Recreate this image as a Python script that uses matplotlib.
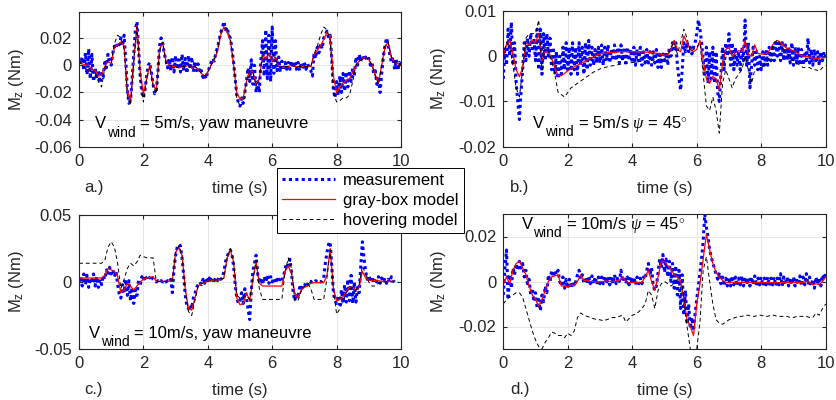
import numpy as np
import matplotlib
matplotlib.use("Agg")
import matplotlib.pyplot as plt

plt.rcParams['font.family'] = ['Liberation Sans', 'DejaVu Sans']
plt.rcParams['mathtext.fontset'] = 'custom'
plt.rcParams['mathtext.rm'] = 'Liberation Sans'
plt.rcParams['mathtext.it'] = 'Liberation Serif:italic'
plt.rcParams['axes.unicode_minus'] = False

# --- data (values in 1e-3 Nm) ---
# panel a: Vwind = 5 m/s, yaw maneuvre
meas_a = [3, 1, 6, -4, 9, -7, 12, -10, 8, -12,
          -2, -10, -4, -13, -6, -9, 2, -2, 8, 2,
          0, 9, 14, 12, 17, 15, 20, 14, 22, 4,
          -18, -28, -26, -10, 8, 26, 32, 12, -8, -20,
          -24, -18, -8, 0, 2, -6, -14, -21, -19, -5,
          14, 20, 16, 8, 4, -2, 5, -4, 6, -5,
          7, -3, 4, -5, 8, -4, 5, -6, 7, -3,
          6, -5, 3, -4, 1, -6, -4, -9, -7, -10,
          -4, -2, 2, 5, 3, 9, 13, 18, 24, 27,
          32, 26, 28, 22, 20, 12, 2, -10, -22, -28,
          -30, -24, -28, -20, -12, -2, -12, 4, -14, 0,
          -20, -12, -20, 4, 18, -8, 26, -10, 22, -12,
          28, -6, 18, -4, 6, -5, 3, -4, 2, -3,
          2, -3, 3, -2, 3, -3, 2, -4, 2, -3,
          2, -3, 1, -2, -4, -8, 9, 5, 13, 9,
          16, 12, 20, 22, 25, 20, 22, 5, -18, -24,
          -12, -22, -8, -20, -6, -19, -5, -16, -4, -12,
          -2, -8, 6, 0, 8, 3, 7, 4, 6, 3,
          5, 0, 2, -6, -4, -14, -10, -20, -6, 6,
          14, 20, 15, 8, 2, 6, -3, 4, -4, 2,
          0]
gray_a = [2, 1, 0, 0, -3, -4, -8, -7, -1, 3,
          1, 13, 15, 17, 14, -18, -27, 4, 29, -5,
          -21, -10, 0, -14, -19, 12, 16, 3, 0, -1,
          -1, -2, -1, -1, 0, -2, -1, -3, -6, -8,
          -5, 0, 4, 10, 22, 28, 24, 18, 0, -20,
          -25, -24, -12, -4, -5, -14, -10, 7, 5, 8,
          3, 6, -1, -2, -1, -1, 0, -1, -1, -1,
          -1, -1, -1, 8, 11, 14, 19, 24, 21, -8,
          -20, -16, -13, -11, -10, -5, 0, 3, 5, 6,
          4, 0, -7, -13, 0, 13, 17, 6, 2, 1,
          0]
hover_a = [3, 0, -2, -4, -5, -6, -12, -16, -2, 4,
           2, 16, 22, 20, 12, -22, -29, 2, 28, -8,
           -27, -10, -1, -15, -21, 10, 17, 2, 0, -1,
           -1, -2, -1, -1, 0, -2, -1, -3, -6, -8,
           -5, 0, 4, 12, 24, 27, 26, 20, 2, -24,
           -30, -28, -12, -4, -5, -15, -10, 9, 10, 12,
           8, 5, -1, -2, -1, -1, 0, -1, -1, -1,
           -1, -1, -1, 8, 14, 22, 28, 26, 18, -20,
           -27, -26, -24, -24, -22, -12, 0, 3, 5, 6,
           4, 0, -8, -14, 0, 14, 17, 6, 2, 1,
           0]

# panel b: Vwind = 5 m/s, psi = 45
meas_b = [-5, 2, -2, 6, 0, 7.5, -2, 3, -6, -10,
          -14, -8, -3, 3, -1, 4, 0, 5, 1, 4,
          -1, 6, -3, 6, -4, 5, -1, 5, 0, 4,
          -3, 2, -4, 1, -5, 0, -4, 2, -3, 3,
          -3, 2, -4, 3, -3, 2, -4, 3, -2, 2,
          -4, 3, -3, 3.5, -2, 2, -2, 1.5, -1.5, 2,
          -1.5, 2.5, -2, 2, -1, 2.5, -1.5, 1.5, -1, 2.5,
          -1, 2, -1.5, 2.5, -1, 2, -1.5, 2, -1, 1.5,
          -1.5, 2, -2, 1.5, -1, 2, -2, 1, -1.5, 1.5,
          -1.5, 1, -2, 1, -1.5, 1.5, -2.5, 1, -2.5, 0.5,
          -1, 1, -2, 2, 0, 3, 1, 3, -2, -5,
          -7.5, -3, 3, 1, 3, 1, 2, 0.5, 2, 3,
          5, 8, 6, 3, -1, -4, 2, -6, 1, -5,
          2, -6, 1, -8, -10, -4, 2, -3, 3, 0,
          5, -2, 3, -3, 2, -2, 1, -3, 2, -1,
          8, -2, 3, -7, -2, 2, -2, 1, -3, 0,
          -3, 1, -2, 1.5, -2, 2, -1, 2.5, -1, 3,
          0, 3, -1, 3, -1, 2.5, -1, 2, -1.5, 3,
          -2, 2, -1.5, 2, -2, 1.5, -2, 1, -1.5, 4,
          -1.5, 1.5, -2, 1.5, -1.5, 1, -2, 1, -1, 1,
          0]
gray_b = [0, 2.5, 3.5, 0.5, -3, -4.5, -2.5, 3, 2.5, 3.5,
          3, 5, -1, 1, 1, -0.5, -2.5, -4.3, -4.3, -3.8,
          -3.2, -2.8, -2.3, -2, -1.6, -1.3, -0.8, -0.4, -0.2, 0.3,
          0.5, 0.6, 0.7, 0.8, 0.8, 0.9, 1, 1, 1, 1,
          1, 1, 1, 1, 0.9, 0.9, 0.8, 0.7, 0.6, 0.4,
          0.2, 0.3, 1.5, 3.5, 1.5, 1, 4.5, 3, 1.5, 1,
          1.5, 3.5, -1, -5, -6, -4.5, -5, -7.5, -1.5, 1.5,
          2, 0, 0.8, 1.2, 1, 3.5, 0.5, 0, 2.5, 0.6,
          0.5, 0.4, 0.8, 1.8, 3, 3.5, 3, 2.3, 1.7, 1.5,
          1.2, 0.8, 0.3, 0, 0, -0.2, -0.4, -0.5, -0.4, -0.3,
          -0.3]
hover_b = [0, 3, 2, -2, -7, -9, -3, 4, 5, 5,
           5, 8, -3, 2, 1, -1, -4, -8, -8.5, -9,
           -8, -7, -6.5, -6, -5.5, -5, -4.5, -4, -3.5, -3.2,
           -2.8, -2.6, -2.4, -2.2, -2.1, -2, -1.8, -1.7, -1.6, -1.5,
           -1.4, -1.3, -1.2, -1.1, -1.05, -1, -0.9, -0.8, -0.7, -0.6,
           -0.5, 0, 2, 3, 0.5, 3, 6, 4, 1, 1.5,
           2, 3, -4, -11, -12, -9, -12, -17, -6, -3,
           -5, -7, -5, -4, -3, 0, -3, -6, -3, -3,
           -2.5, -2, -1, 1, 3, 3.5, 2.5, 1.5, 0.5, -0.5,
           -1, -1.5, -2, -2.5, -2.5, -2.5, -3, -3, -3.3, -2.5,
           -2]

# panel c: Vwind = 10 m/s, yaw maneuvre (ends at 9.8 s)
meas_c = [0, 4, -3, 6, -2, 5, -4, 3, -1, 6,
          -3, 4, -4, 2, -2, 5, 2, 9, 5, 11,
          6, 9, 4, 8, -2, -9, -12, -2, -8, 2,
          -10, 1, -14, -4, -16, -6, -10, 2, -3, 4,
          1, 5, 2, 4, 3, 5, 2, 1, 0, 1,
          0, 1, 0, 1, 0, 1, 0, 2, -8, 10,
          20, 26, 28, 27, 18, 5, -10, -18, -20, -17,
          -20, -12, -9, -4, -2, 0, -2, 2, -1, 3,
          0, 3, 0, 3, 1, 3, 1, 4, 2, 3,
          8, 15, 19, 22, 24, 20, 12, -2, -12, -16,
          -14, -8, -16, -5, -12, -20, -28, -6, 8, 14,
          20, 6, -1, 3, -2, 4, 0, 5, -1, 4,
          0, 3, -1, 2, 0, 3, 1, 4, 10, 14,
          12, 17, 7, -8, -14, -9, -12, -4, -6, -2,
          -3, 0, -2, 1, 0, 1, 0, 1, 0, 1,
          0, 1, 3, 14, 22, 28, 30, 12, -8, -14,
          -16, -10, -17, -6, -16, -2, -15, 2, -14, 5,
          -16, 0, -15, -4, -8, 12, 30, 18, 8, 2,
          5, 0, 4, -1, 3, 0, 4, -1, 3, 0,
          3, -1, 2, 0, 4, 1, 0]
gray_c = [3, 3, 3, 3, 3, 3, 3, 3, 5, 10,
          9, 8, 4, -8, -6, -1, -3, -6, -3, 0,
          2, 3, 3.5, 4, 0.5, 0.5, 0.5, 0.5, 0.5, 1,
          22, 26, 20, -5, -20, -21, -12, -3, -1, -0.5,
          0.5, 1, 1.5, 1.5, 2, 3, 18, 24, 15, -12,
          -17, -16, -8, -14, 2, 15, -1, -3, -3, -3,
          -3, -3, -3, -3, 8, 12, 6, -8, -12, -6,
          -4, -3, -1, -0.5, -0.5, -0.5, -0.5, 5, 25, -5,
          -14, -13, -11, -7, -4, -4, -6, -4, 8, 3,
          1.5, 1, 1, 1, 0.5, 0.5, 0.5, 0.5, 0.5]
hover_c = [14, 14, 14, 14, 14, 14, 14, 14, 16, 26,
           30, 26, 14, -5, 2, 10, 14, 12, 15, 20,
           19, 18, 18, 18, 0.5, 0.5, 0.5, 0.5, 0.5, 1,
           22, 27, 20, -6, -22, -25, -14, -3, -1, -0.5,
           0.5, 1, 1.5, 1.5, 2, 3, 18, 25, 16, -10,
           -12, -12, -10, -13, 2, 16, -5, -13, -13, -13,
           -13, -13, -13, -13, 8, 18, 10, -14, -14, -7,
           -3, -1, -5, -13, -13, -13, -13, 3, 24, -5,
           -24, -20, -14, -8, -5, -4, -6, -2, 12, 6,
           0, -3, -3, -1, 0, 0, 0, 0, 0]

# panel d: Vwind = 10 m/s, psi = 45
meas_d = [-6, 6, 14, -8, 3, -3, 6, 3, 8, 5,
          9, 6, 8, 2, 5, -1, 1, -6, -3, -9,
          -5, -12, -8, -13, -6, -9, -2, -5, 3, 0,
          5, 2, 5, 3, 5, 0, -2, 2, -3, 1,
          -3, 1, -3, 0, -2, 0, 3, 5, 1, 3,
          -1, 2, -1, 2, -1, 2.5, -1, 2, -1.5, 2,
          -1, 2, -1, 2.5, -1, 2, -1.5, 2, -1, 3,
          -1, 2, 0, 5, 1, 2, -1, 2, -1.5, 2,
          -1, 2, -1.5, 2, -1, 1.5, -1, 2, 1, 5,
          8, 3, 6, -2, -4, -2, 4, 10, 6, 12,
          4, 10, 2, 9, 0, 8, -3, 7, -6, 5,
          -12, 3, -15, -4, -19, -10, -21, -16, -22, -14,
          -8, -2, 4, 10, 18, 30, 24, 20, 14, 11,
          8, 6, 3, 1, 4, -1, 2, -2, 1.5, -2,
          2, -2, 2.5, -1.5, 2, -2, 1.5, -1.5, 2.5, -2,
          2, -1.5, 1.5, -2, 2, -1.5, 2.5, -2, 1.5, -1.5,
          2, -2, 1.5, -1.5, 2, -2, 1.5, -1.5, 2, -2,
          1.5, -1.5, 3.5, -2, 2, -1.5, 2, -2, 1.5, -1.5,
          2, -2, 1.5, -1.5, 2.5, -2, 2, -1.5, 3.5, -1.5,
          2, -2, 1, -3, 2, -1, 1.5, -2, 3, 1,
          4]
gray_d = [-1.5, 2, -1, 5, 8, 9, 6, 3, -2, -6,
          -8, -11, -8, -4, 0, 2, 2.5, 3, -2, -2,
          -2.5, -1.5, -2, 0, 3, 0.5, 0.5, 0, 0, -0.3,
          0, 0, 0.2, 0, 0, 0.3, 0.5, 2, 0, -0.5,
          -0.5, -0.3, -0.5, -0.4, 2, 5, 0, -4, 2, 9,
          9, 7, 5.5, 3, 2, 0, -8, -17, -20, -24,
          -10, -1, 10, 21, 14, 8, 4, 2, 0.5, -0.5,
          -0.5, -0.3, -0.5, -0.3, -0.5, -0.5, -0.3, -0.5, -0.5, -0.4,
          -0.4, -0.5, -0.3, -0.5, -0.4, -0.5, -0.5, -0.3, -0.4, -0.6,
          -0.5, -0.3, -0.5, -0.4, 0.2, -0.4, -1.5, -1, -1.5, 0,
          2]
hover_d = [-10, -8, -7, -6, -5, -5, -7, -12, -17, -22,
           -26, -29, -30, -27, -25, -22.5, -23, -24, -24, -25,
           -23, -24, -22, -16, -14, -15, -15.5, -16, -16.5, -17,
           -17, -17.5, -17, -16.5, -16, -16, -15.5, -15, -18, -16.5,
           -15, -14.5, -13.5, -12, -10, -4, -6, -12, -4, -1,
           0, -1, -2, -1, 1, 3, -8, -20, -30, -32,
           -30, -18, 5, 11, 0, -10, -17, -18.5, -19, -18,
           -17, -16.5, -16, -15.5, -15.5, -15, -15, -15.5, -15.5, -15,
           -15, -15.5, -15.5, -15, -15, -15.5, -15.5, -15.5, -15.5, -16,
           -16, -15.5, -15.5, -15.5, -15.5, -16, -16, -14, -15, -12,
           -10]

panels = [
    ('a.)', meas_a, gray_a, hover_a, (-0.06, 0.039),
     [-0.06, -0.04, -0.02, 0, 0.02], ['-0.06', '-0.04', '-0.02', '0', '0.02'],
     '= 5m/s, yaw maneuvre', (0.5, -0.046)),
    ('b.)', meas_b, gray_b, hover_b, (-0.02, 0.01),
     [-0.02, -0.01, 0, 0.01], ['-0.02', '-0.01', '0', '0.01'],
     r'= 5m/s $\psi$ = 45$^{\circ}$', (0.93, -0.0158)),
    ('c.)', meas_c, gray_c, hover_c, (-0.05, 0.05),
     [-0.05, 0, 0.05], ['-0.05', '0', '0.05'],
     '= 10m/s, yaw maneuvre', (0.32, -0.0416)),
    ('d.)', meas_d, gray_d, hover_d, (-0.03, 0.03),
     [-0.02, 0, 0.02], ['-0.02', '0', '0.02'],
     r'= 10m/s $\psi$ = 45$^{\circ}$', (0.57, 0.0235)),
]

rects = [[0.0944, 0.6325, 0.3847, 0.3375],
         [0.6013, 0.6333, 0.3852, 0.3392],
         [0.0944, 0.1275, 0.3847, 0.3350],
         [0.6013, 0.1275, 0.3852, 0.3375]]

fig = plt.figure(figsize=(8.37, 4), dpi=100)
txtc = '#262626'
handles = None

for k, (tag, meas, gray, hover, ylim, yt, ytl, note, notepos) in enumerate(panels):
    ax = fig.add_axes(rects[k])
    tm = np.arange(len(meas)) * 0.05
    tg = np.arange(len(gray)) * 0.1
    l1, = ax.plot(tm, np.array(meas) / 1000, color='#0000ff', lw=2.2,
                  linestyle=(0, (1, 1.1)), label='measurement')
    l2, = ax.plot(tg, np.array(gray) / 1000, color='#ff0000', lw=0.9,
                  label='gray-box model')
    l3, = ax.plot(tg, np.array(hover) / 1000, color='black', lw=0.7,
                  linestyle=(0, (4, 3)), label='hovering model')
    if handles is None:
        handles = [l1, l2, l3]

    ax.set_xlim(0, 10)
    ax.set_ylim(*ylim)
    ax.set_xticks([0, 2, 4, 6, 8, 10])
    ax.set_xticklabels(['0', '2', '4', '6', '8', '10'])
    ax.set_yticks(yt)
    ax.set_yticklabels(ytl)
    ax.grid(True, color='#e3e3e3', lw=0.6)
    ax.set_axisbelow(True)
    ax.tick_params(direction='in', length=3, top=True, right=True,
                   labelsize=12, colors=txtc, pad=5)
    for s in ax.spines.values():
        s.set_color(txtc)
        s.set_linewidth(0.8)

    ax.set_ylabel(r'M$_{\rm z}$ (Nm)', fontsize=12, color=txtc)
    ax.yaxis.set_label_coords(-0.165 if k % 2 == 0 else -0.171, 0.5)
    ax.set_xlabel('time (s)', fontsize=12, color=txtc)
    ax.xaxis.set_label_coords(0.5, -0.25)
    ax.text(0.015 if k % 2 == 0 else 0.022, -0.30, tag, transform=ax.transAxes,
            fontsize=12, color=txtc, va='center', ha='left')

    # "V_wind = ..." note, subscript built by hand (MATLAB style)
    ax.annotate('V', notepos, fontsize=12, va='baseline', ha='left')
    ax.annotate('wind', notepos, xytext=(8.3, -6.3), textcoords='offset points',
                fontsize=10, va='baseline', ha='left')
    ax.annotate(note, notepos, xytext=(32.0, 0), textcoords='offset points',
                fontsize=12, va='baseline', ha='left')

leg = fig.legend(handles, [h.get_label() for h in handles], loc='upper left',
                 bbox_to_anchor=(0.331, 0.58), fontsize=12, frameon=True,
                 fancybox=False, edgecolor='black', framealpha=1,
                 borderpad=0.3, handlelength=3.2, handletextpad=0.46,
                 labelspacing=0.3, borderaxespad=0)
leg.get_frame().set_linewidth(0.7)

fig.savefig('out.png', dpi=100)
